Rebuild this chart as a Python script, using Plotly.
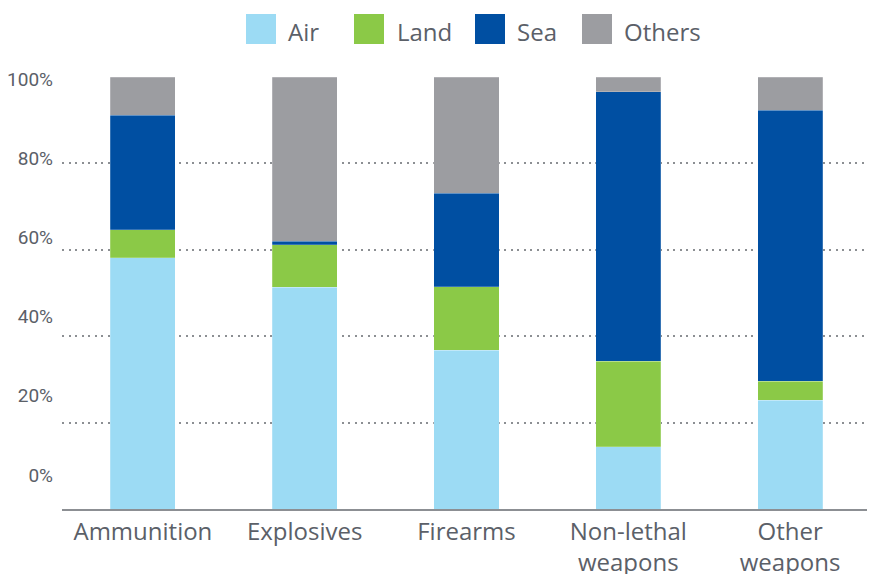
import plotly.graph_objects as go

categories = ["Ammunition", "Explosives", "Firearms", "Non-lethal<br>weapons", "Other<br>weapons"]
series_names = ["Air", "Land", "Sea", "Others"]
air = [58.2, 51.3, 36.8, 14.4, 25.2]
land = [6.5, 9.9, 14.6, 19.8, 4.4]
sea = [26.5, 0.8, 21.7, 62.4, 62.7]
others = [8.8, 38.0, 26.9, 3.4, 7.7]
series_values = [air, land, sea, others]
colors = ["#9cdbf4", "#8bc947", "#004fa2", "#9c9da1"]
tick_vals = [0, 20, 40, 60, 80, 100]
tick_labels = ["0%", "20%", "40%", "60%", "80%", "100%"]

# the page body adds an 8px margin, so the figure is drawn 8px in from the top-left
OFF = 8
W, H = 875 - OFF, 574 - OFF
ML, MR, MT, MB = 62 - OFF, 4, 77 - OFF, 65
PW, PH = W - ML - MR, H - MT - MB
TEXT = "#5b6068"

def px_x(px):
    return (px - OFF - ML) / PW

def px_y(py):
    return (H - MB - (py - OFF)) / PH

fig = go.Figure()
for name, vals, col in zip(series_names, series_values, colors):
    fig.add_trace(go.Bar(x=categories, y=vals, name=name, marker_color=col,
                         marker_line_color="rgba(255,255,255,0.35)", marker_line_width=0.6,
                         showlegend=False))

# invisible trace to carry the label axis
fig.add_trace(go.Scatter(x=categories, y=[None] * len(categories), yaxis="y2",
                         showlegend=False, hoverinfo="skip", mode="markers"))

# custom legend
sw_left = [246, 354, 475, 582]
txt_left = [286, 395, 515, 622]
for name, col, sx, tx in zip(series_names, colors, sw_left, txt_left):
    fig.add_shape(type="rect", xref="paper", yref="paper",
                  x0=px_x(sx), x1=px_x(sx + 30), y0=px_y(44), y1=px_y(14),
                  fillcolor=col, line_width=0)
    fig.add_annotation(text=name, xref="paper", yref="paper", x=px_x(tx), y=px_y(31),
                       xanchor="left", yanchor="middle", showarrow=False,
                       font=dict(family="Open Sans", size=24, color=TEXT))

fig.update_layout(
    width=W, height=H,
    margin=dict(l=ML, r=MR, t=MT, b=MB, autoexpand=False),
    barmode="stack", bargap=0.598,
    plot_bgcolor="white", paper_bgcolor="white",
    showlegend=False,
    xaxis=dict(showline=True, linecolor="#8c8f93", linewidth=2, automargin=False,
               tickfont=dict(family="Open Sans", size=24, color=TEXT),
               showgrid=False, ticks=""),
    yaxis=dict(range=[0, 100], tickvals=tick_vals[1:], showticklabels=False,
               showgrid=True, gridcolor="#8c8f93", gridwidth=1.5, griddash="2px,4.5px",
               zeroline=False, fixedrange=True, automargin=False),
    yaxis2=dict(overlaying="y", side="left", range=[-8.59, 100.5], automargin=False,
                tickvals=tick_vals, ticktext=tick_labels, showgrid=False, zeroline=False,
                ticklabelstandoff=8,
                tickfont=dict(family="Roboto", size=19, color=TEXT)),
)

fig.write_html("out.html")
